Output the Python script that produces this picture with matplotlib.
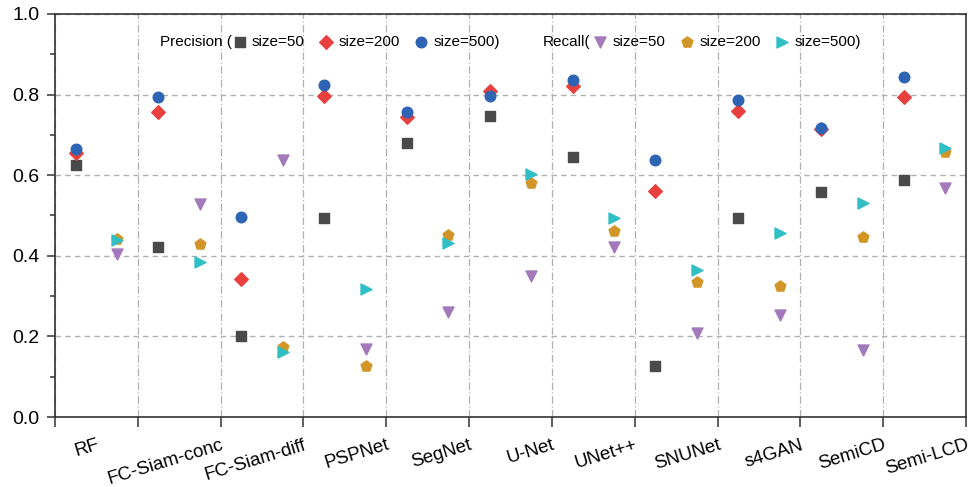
import numpy as np
import matplotlib
matplotlib.use("Agg")
import matplotlib.pyplot as plt
from matplotlib.ticker import MultipleLocator, FormatStrFormatter

plt.rcParams['font.family'] = ['Liberation Sans', 'DejaVu Sans']

models = ['RF', 'FC-Siam-conc', 'FC-Siam-diff', 'PSPNet', 'SegNet', 'U-Net',
          'UNet++', 'SNUNet', 's4GAN', 'SemiCD', 'Semi-LCD']

# precision for the three training sizes
prec_50 = [0.625, 0.422, 0.200, 0.493, 0.679, 0.746, 0.645, 0.127, 0.495, 0.558, 0.588]
prec_200 = [0.654, 0.758, 0.343, 0.797, 0.745, 0.810, 0.821, 0.561, 0.759, 0.715, 0.793]
prec_500 = [0.664, 0.795, 0.496, 0.823, 0.758, 0.797, 0.837, 0.638, 0.787, 0.718, 0.844]

# recall for the three training sizes
rec_50 = [0.404, 0.529, 0.638, 0.170, 0.261, 0.350, 0.423, 0.208, 0.253, 0.166, 0.567]
rec_200 = [0.441, 0.429, 0.174, 0.126, 0.452, 0.581, 0.462, 0.335, 0.325, 0.447, 0.658]
rec_500 = [0.439, 0.384, 0.161, 0.318, 0.431, 0.602, 0.495, 0.366, 0.457, 0.530, 0.668]

idx = np.arange(len(models))
x_prec = idx + 0.25
x_rec = idx + 0.75

fig = plt.figure(figsize=(9.71, 4.87), dpi=100)
ax = fig.add_axes([0.0566, 0.1437, 0.9383, 0.8276])

p1 = ax.scatter(x_prec, prec_50, marker='s', s=42, color='#4a4a4a', label='size=50', zorder=3)
p2 = ax.scatter(x_prec, prec_200, marker='D', s=48, color='#e8403f', label='size=200', zorder=3)
p3 = ax.scatter(x_prec, prec_500, marker='o', s=58, color='#2e64b4', label='size=500)', zorder=3)

r1 = ax.scatter(x_rec, rec_50, marker='v', s=62, color='#a379bb', label='size=50', zorder=3)
r2 = ax.scatter(x_rec, rec_200, marker='p', s=66, color='#d19528', label='size=200', zorder=3)
r3 = ax.scatter(x_rec, rec_500, marker='>', s=62, color='#30bfc4', label='size=500)', zorder=3)

ax.set_xlim(0, len(models))
ax.set_ylim(0, 1.0)

# boundaries as major ticks; names are right-aligned against the end of
# their group (the short "RF" sits in the middle of its group)
ax.xaxis.remove_overlapping_locs = False
ax.set_xticks(np.arange(len(models) + 1))
ax.set_xticklabels([])
label_pos = idx + 1.0
label_pos[0] = 0.5
ax.set_xticks(label_pos, minor=True)
ax.set_xticklabels(models, minor=True, rotation=17, ha='right', va='top',
                   rotation_mode='anchor', fontsize=13.5)
ax.tick_params(axis='x', which='major', direction='out', length=7, width=1.1, color='#333333')
ax.tick_params(axis='x', which='minor', length=0, pad=14)

ax.yaxis.set_major_locator(MultipleLocator(0.2))
ax.yaxis.set_minor_locator(MultipleLocator(0.1))
ax.yaxis.set_major_formatter(FormatStrFormatter('%.1f'))
ax.tick_params(axis='y', which='major', direction='out', length=6, width=1.1, labelsize=14, pad=5, color='#333333')
ax.tick_params(axis='y', which='minor', direction='out', length=3.5, width=1.1, color='#333333')

ax.grid(axis='y', which='major', linestyle=(0, (4, 3)), color='#b0b0b0', linewidth=1.0)
ax.grid(axis='x', which='major', linestyle=(0, (6, 2, 1, 2)), color='#b0b0b0', linewidth=0.9)
ax.set_axisbelow(True)

for sp in ax.spines.values():
    sp.set_linewidth(1.2)
    sp.set_color('#333333')

# legends: a label word followed by the three markers
ax.text(0.115, 0.93, 'Precision (', transform=ax.transAxes, fontsize=11, va='center', ha='left')
leg1 = ax.legend(handles=[p1, p2, p3], ncol=3, loc='center left', bbox_to_anchor=(0.196, 0.93),
                 frameon=False, fontsize=11, handlelength=0.8, handletextpad=0.4,
                 columnspacing=1.0, borderpad=0, borderaxespad=0)
ax.add_artist(leg1)
ax.text(0.535, 0.93, 'Recall(', transform=ax.transAxes, fontsize=11, va='center', ha='left')
ax.legend(handles=[r1, r2, r3], ncol=3, loc='center left', bbox_to_anchor=(0.592, 0.93),
          frameon=False, fontsize=11, handlelength=0.8, handletextpad=0.4,
          columnspacing=1.0, borderpad=0, borderaxespad=0)

fig.savefig('out.png', dpi=100)
